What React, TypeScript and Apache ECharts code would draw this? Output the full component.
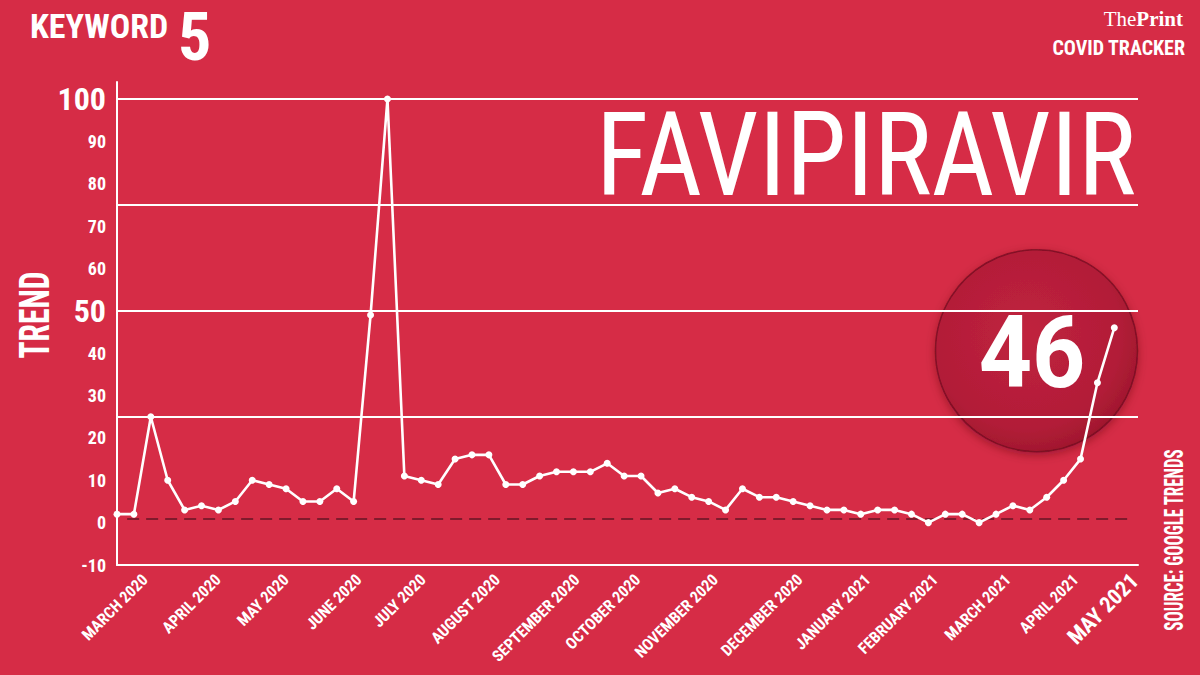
import React, { useEffect, useRef } from "react";
import * as echarts from "echarts";

// Weekly Google Trends interest for "Favipiravir" (week index 0..59)
const trendValues: number[] = [
  2, 2, 25, 10, 3, 4, 3, 5, 10, 9,
  8, 5, 5, 8, 5, 49, 100, 11, 10, 9,
  15, 16, 16, 9, 9, 11, 12, 12, 12, 14,
  11, 11, 7, 8, 6, 5, 3, 8, 6, 6,
  5, 4, 3, 3, 2, 3, 3, 2, 0, 2,
  2, 0, 2, 4, 3, 6, 10, 15, 33, 46,
];

// Month labels along the x axis and the week index where each label sits
const monthLabels: string[] = [
  "MARCH 2020", "APRIL 2020", "MAY 2020", "JUNE 2020", "JULY 2020",
  "AUGUST 2020", "SEPTEMBER 2020", "OCTOBER 2020", "NOVEMBER 2020",
  "DECEMBER 2020", "JANUARY 2021", "FEBRUARY 2021", "MARCH 2021",
  "APRIL 2021", "MAY 2021",
];
const monthTickWeeks: number[] = [
  1.66, 5.98, 10.0, 14.3, 18.1, 22.5, 27.2, 30.8, 35.4, 40.4, 44.4, 48.4, 52.7, 56.7, 60.2,
];

const yTickValues: number[] = [-10, 0, 10, 20, 30, 40, 50, 60, 70, 80, 90, 100];
const yBigTicks: number[] = [50, 100];
const gridLineValues: number[] = [25, 50, 75, 100];
const baselineValue = 1;

const keyword = "FAVIPIRAVIR";
const keywordRank = "5";

const BG = "#d62c46";
const NARROW = "'Liberation Sans Narrow', 'Roboto Condensed', 'DejaVu Sans Condensed', 'Liberation Sans', sans-serif";

export default function App() {
  const ref = useRef<HTMLDivElement>(null);

  useEffect(() => {
    if (!ref.current) return;
    const chart = echarts.init(ref.current, undefined, { renderer: "svg" });
    const seriesData = trendValues.map((v, i) => [i, v]);
    const lastValue = trendValues[trendValues.length - 1];
    const xMax = 60.4;

    chart.setOption({
      animation: false,
      backgroundColor: BG,
      grid: { left: 117, right: 62, top: 82, bottom: 110, containLabel: false },
      xAxis: {
        type: "value",
        min: 0,
        max: xMax,
        axisLine: { show: true, onZero: false, lineStyle: { color: "#ffffff", width: 2 } },
        axisTick: { show: false },
        splitLine: { show: false },
        axisLabel: {
          customValues: monthTickWeeks,
          rotate: 45,
          margin: 12,
          color: "#ffffff",
          fontFamily: NARROW,
          fontWeight: "bold",
          fontSize: 16,
          formatter: (value: number) => {
            const idx = monthTickWeeks.findIndex((w) => Math.abs(w - value) < 1e-6);
            if (idx < 0) return "";
            return idx === monthLabels.length - 1 ? `{big|${monthLabels[idx]}}` : monthLabels[idx];
          },
          rich: {
            big: { fontSize: 22, fontWeight: "bold", fontFamily: NARROW, color: "#ffffff" },
          },
        },
      },
      yAxis: {
        type: "value",
        min: -10,
        max: 104,
        axisLine: { show: true, onZero: false, lineStyle: { color: "#ffffff", width: 2 } },
        axisTick: { show: false },
        splitLine: { show: false },
        axisLabel: {
          customValues: yTickValues,
          margin: 11,
          color: "#ffffff",
          fontFamily: NARROW,
          fontWeight: "bold",
          fontSize: 18,
          formatter: (value: number) =>
            yBigTicks.includes(value) ? `{big|${value}}` : `{small|${value}}`,
          rich: {
            big: { fontSize: 32, fontWeight: "bold", fontFamily: NARROW, color: "#ffffff" },
            small: { fontSize: 18, fontWeight: "bold", fontFamily: NARROW, color: "#ffffff" },
          },
        },
      },
      graphic: [
        {
          type: "circle",
          z: 1,
          silent: true,
          shape: { cx: 1036.5, cy: 350.7, r: 101 },
          style: {
            fill: new echarts.graphic.RadialGradient(0.45, 0.42, 0.62, [
              { offset: 0, color: "#c0223e" },
              { offset: 0.75, color: "#b21d38" },
              { offset: 0.93, color: "#a3182f" },
              { offset: 1, color: "#8e1429" },
            ]),
            stroke: "rgba(110,10,30,0.7)",
            lineWidth: 1.5,
            shadowBlur: 10,
            shadowColor: "rgba(90,0,20,0.45)",
            shadowOffsetY: 3,
          },
        },
        {
          type: "text",
          z: 10,
          silent: true,
          x: 1032,
          y: 353,
          scaleX: 0.93,
          style: {
            text: String(lastValue),
            x: 0,
            y: 0,
            fill: "#ffffff",
            font: "bold 100px 'Roboto', 'Liberation Sans', Arial, sans-serif",
            align: "center",
            verticalAlign: "middle",
          },
        },
        {
          type: "text",
          z: 10,
          silent: true,
          x: 1136,
          y: 155,
          scaleX: 0.94,
          style: {
            text: keyword,
            x: 0,
            y: 0,
            fill: "#ffffff",
            font: `normal 116px ${NARROW}`,
            align: "right",
            verticalAlign: "middle",
          },
        },
        {
          type: "text",
          z: 10,
          silent: true,
          x: 30,
          y: 26,
          style: {
            text: "KEYWORD",
            x: 0,
            y: 0,
            fill: "#ffffff",
            font: `bold 34px ${NARROW}`,
            align: "left",
            verticalAlign: "middle",
          },
        },
        {
          type: "text",
          z: 10,
          silent: true,
          x: 178,
          y: 37,
          style: {
            text: keywordRank,
            x: 0,
            y: 0,
            fill: "#ffffff",
            font: `bold 66px ${NARROW}`,
            align: "left",
            verticalAlign: "middle",
          },
        },
        {
          type: "text",
          z: 10,
          silent: true,
          x: 1183,
          y: 19,
          style: {
            text: "{a|The}{b|Print}",
            x: 0,
            y: 0,
            align: "right",
            verticalAlign: "middle",
            rich: {
              a: { fill: "#ffffff", font: "normal 21px 'Liberation Serif', serif" },
              b: { fill: "#ffffff", font: "bold 21px 'Liberation Serif', serif" },
            },
          },
        },
        {
          type: "text",
          z: 10,
          silent: true,
          x: 1185,
          y: 48,
          style: {
            text: "COVID TRACKER",
            x: 0,
            y: 0,
            fill: "#ffffff",
            font: `bold 20px ${NARROW}`,
            align: "right",
            verticalAlign: "middle",
          },
        },
        {
          type: "text",
          z: 10,
          silent: true,
          x: 35,
          y: 315,
          rotation: Math.PI / 2,
          scaleX: 0.75,
          style: {
            text: "TREND",
            x: 0,
            y: 0,
            fill: "#ffffff",
            font: `bold 42px ${NARROW}`,
            align: "center",
            verticalAlign: "middle",
          },
        },
        {
          type: "text",
          z: 10,
          silent: true,
          x: 1174,
          y: 540,
          rotation: Math.PI / 2,
          scaleX: 0.68,
          style: {
            text: "SOURCE: GOOGLE TRENDS",
            x: 0,
            y: 0,
            fill: "#ffffff",
            font: `bold 25px ${NARROW}`,
            align: "center",
            verticalAlign: "middle",
          },
        },
      ],
      series: [
        {
          type: "line",
          z: 3,
          data: seriesData,
          showSymbol: true,
          symbol: "circle",
          symbolSize: 7,
          itemStyle: { color: "#ffffff" },
          lineStyle: { color: "#ffffff", width: 2.6 },
          silent: true,
          markLine: {
            silent: true,
            symbol: ["none", "none"],
            label: { show: false },
            z: 2,
            lineStyle: { color: "#ffffff", width: 2, type: "solid" },
            data: [
              ...gridLineValues.map((v) => ({ yAxis: v })),
              [
                { coord: [0.6, baselineValue], lineStyle: { color: "#801a2c", width: 2, type: [12, 7] } },
                { coord: [60.1, baselineValue] },
              ],
            ],
          },
        },
      ],
    });

    return () => chart.dispose();
  }, []);

  return (
    <div
      ref={ref}
      style={{ width: 1200, height: 675, position: "absolute", left: 0, top: 0 }}
    />
  );
}
